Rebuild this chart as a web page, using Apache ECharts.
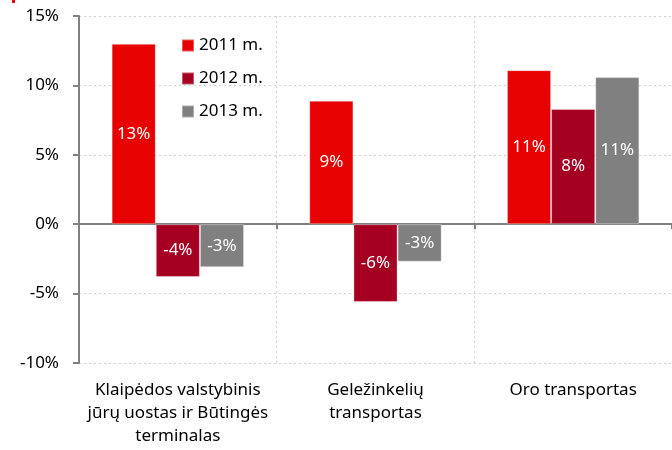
<!DOCTYPE html>
<html>
<head>
    <meta charset="utf-8">
    <title>Krovinių vežimo pokyčiai</title>
    <script src="https://cdn.jsdelivr.net/npm/echarts@6/dist/echarts.min.js"></script>
    <style>
        html, body { margin: 0; padding: 0; background: #fff; }
        #chart { width: 672px; height: 450px; }
    </style>
</head>
<body>
<div id="chart"></div>
<script>
    // kategorijos ir reikšmės (%)
    var categories = [
        'Klaipėdos valstybinis\njūrų uostas ir Būtingės\nterminalas',
        'Geležinkelių\ntransportas',
        'Oro transportas'
    ];
    var seriesNames = ['2011 m.', '2012 m.', '2013 m.'];
    var values2011 = [13.0, 8.9, 11.1];
    var values2012 = [-3.8, -5.6, 8.3];
    var values2013 = [-3.1, -2.7, 10.6];
    var colors = ['#e60000', '#a50021', '#808080'];

    var font = 'Noto Sans';
    var fs = 17;
    var chart = echarts.init(document.getElementById('chart'));

    function barSeries(name, data, color) {
        return {
            name: name,
            type: 'bar',
            data: data,
            barGap: '0%',
            barCategoryGap: '33%',
            itemStyle: { color: color, borderColor: 'rgba(255,255,255,0.35)', borderWidth: 1 },
            label: {
                show: true,
                position: 'inside',
                color: '#fff',
                fontFamily: font,
                fontSize: fs,
                formatter: function (p) { return Math.round(p.value) + '%'; }
            }
        };
    }

    var option = {
        animation: false,
        grid: { left: 79, right: 0, top: 16, bottom: 87 },
        legend: {
            orient: 'vertical',
            left: 176,
            top: 32,
            itemWidth: 12,
            itemHeight: 12,
            itemGap: 16,
            icon: 'rect',
            textStyle: { fontFamily: font, fontSize: fs, color: '#000' },
            data: seriesNames
        },
        xAxis: [{
            type: 'category',
            data: categories,
            axisLine: { onZero: true, lineStyle: { color: '#808080', width: 2 } },
            axisTick: { show: true, length: 5, lineStyle: { color: '#808080', width: 2 } },
            axisLabel: { show: false },
            splitLine: { show: true, lineStyle: { color: '#d0d0d0', type: [2, 3], width: 1 } }
        }, {
            type: 'category',
            data: categories,
            position: 'bottom',
            axisLine: { show: false, onZero: false },
            axisTick: { show: false },
            axisLabel: {
                fontFamily: font, fontSize: fs, color: '#000',
                lineHeight: 23, margin: 16, interval: 0
            }
        }],
        yAxis: {
            type: 'value',
            min: -10,
            max: 15,
            interval: 5,
            axisLine: { show: true, lineStyle: { color: '#808080', width: 2 } },
            axisTick: { show: true, length: 6, lineStyle: { color: '#808080', width: 2 } },
            axisLabel: {
                fontFamily: font, fontSize: fs, color: '#000', margin: 20,
                formatter: '{value}%'
            },
            splitLine: { show: true, lineStyle: { color: '#d0d0d0', type: [2, 3], width: 1 } }
        },
        graphic: [{
            type: 'rect',
            shape: { x: 12, y: 0, width: 3, height: 3 },
            style: { fill: '#e60000' }
        }],
        series: [
            barSeries(seriesNames[0], values2011, colors[0]),
            barSeries(seriesNames[1], values2012, colors[1]),
            barSeries(seriesNames[2], values2013, colors[2])
        ]
    };

    chart.setOption(option);
</script>
</body>
</html>
